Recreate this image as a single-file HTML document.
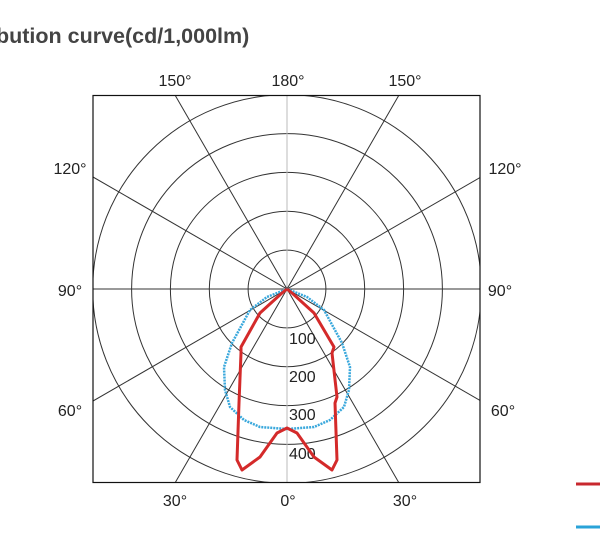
<!DOCTYPE html>
<html><head><style>
html,body{margin:0;padding:0;background:#fff;width:600px;height:555px;overflow:hidden}
svg{display:block}
</style></head><body>
<svg width="600" height="555" xmlns="http://www.w3.org/2000/svg" font-family="Liberation Sans, sans-serif">
<text x="-4" y="43" font-size="21.5" font-weight="bold" fill="#444">bution curve(cd/1,000lm)</text>
<defs><clipPath id="c"><rect x="93" y="95.5" width="387" height="387"/></clipPath></defs>
<g clip-path="url(#c)">
<g transform="translate(287,289)" stroke="#333" stroke-width="1" fill="none">
<circle r="38.9"/><circle r="77.7"/><circle r="116.6"/><circle r="155.4"/><circle r="194.3"/>
<line x1="-200" y1="0" x2="200" y2="0"/>
<line x1="0" y1="-200" x2="0" y2="200" stroke="#bbb"/>
<line x1="-150" y1="-259.8" x2="150" y2="259.8"/>
<line x1="150" y1="-259.8" x2="-150" y2="259.8"/>
<line x1="-259.8" y1="-150" x2="259.8" y2="150"/>
<line x1="259.8" y1="-150" x2="-259.8" y2="150"/>
</g></g>
<g transform="translate(287,289)">
<g font-size="16" fill="#222">
<text x="2" y="55">100</text><text x="2" y="93">200</text><text x="2" y="131">300</text><text x="2" y="170">400</text>
</g>
<polyline fill="none" stroke="#3aa8dc" stroke-width="2.5" stroke-dasharray="2 1" points="0,0 20,8 37,21 55,54 63,78 62,101 57,118 43,131 27,138 0,140 -27,138 -43,131 -57,118 -62,101 -63,78 -55,54 -37,21 -20,8 0,0"/>
<polyline fill="none" stroke="#d42a2a" stroke-width="3" stroke-linejoin="round" points="0,0 5,4 27,24 47,58 45,64 50,108 48,114 50,171 45,181 27,168 10,144 0,139 -10,144 -27,168 -45,181 -50,171 -48,114 -46,64 -46,58 -27,24 -5,4 0,0"/>
</g>
<rect x="93" y="95.5" width="387" height="387" fill="none" stroke="#111" stroke-width="1.2"/>
<g font-size="16" fill="#222" text-anchor="middle">
<text x="175" y="86">150°</text><text x="288" y="86">180°</text><text x="405" y="86">150°</text>
<text x="175" y="506">30°</text><text x="288" y="506">0°</text><text x="405" y="506">30°</text>
<text x="70" y="174">120°</text><text x="70" y="296">90°</text><text x="70" y="416">60°</text>
<text x="505" y="174">120°</text><text x="500" y="296">90°</text><text x="503" y="416">60°</text>
</g>
<line x1="576" y1="484" x2="600" y2="484" stroke="#c8282e" stroke-width="3"/>
<line x1="576" y1="527" x2="600" y2="527" stroke="#2aa3d8" stroke-width="3"/>
</svg>
</body></html>
